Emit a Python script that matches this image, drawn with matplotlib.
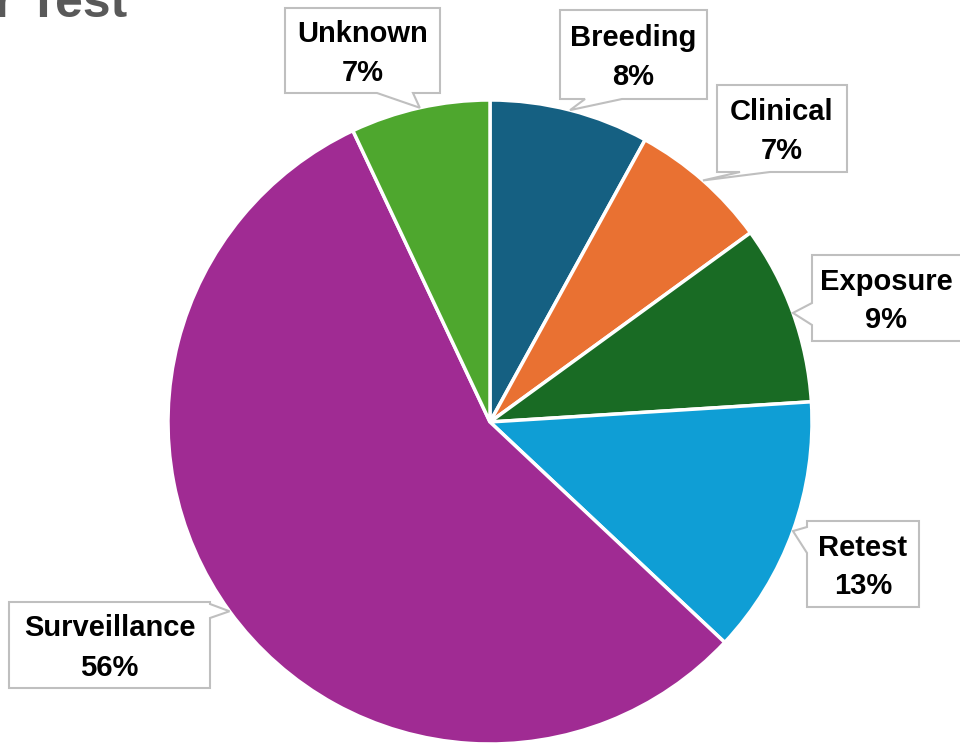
import matplotlib
matplotlib.use("Agg")
import matplotlib.pyplot as plt
import numpy as np
from matplotlib.patches import Polygon

# reasons and their share of all tests (%)
reasons = ["Breeding", "Clinical", "Exposure", "Retest", "Surveillance", "Unknown"]
shares = [8, 7, 9, 13, 56, 7]
colors = ["#156082", "#E97132", "#196B24", "#0F9ED5", "#A02B93", "#4EA72E"]

# callout boxes in pixels: left, top, right, bottom, side with the pointer, pointer base
callouts = {
    "Breeding": (560, 10, 707, 99, "bottom", (585, 622)),
    "Clinical": (717, 85, 847, 172, "bottom", (740, 770)),
    "Exposure": (812, 255, 968, 341, "left", (303, 325)),
    "Retest": (807, 521, 919, 607, "left", (527, 553)),
    "Surveillance": (9, 602, 210, 688, "right", (604, 618)),
    "Unknown": (285, 8, 440, 93, "bottom", (377, 413)),
}

W, H = 960, 743
cx, cy, R = 490, 422, 322

fig = plt.figure(figsize=(W / 100, H / 100), dpi=100)
ax = fig.add_axes([0, 0, 1, 1])

wedges, _ = ax.pie(shares, colors=colors, startangle=90, counterclock=False,
                   wedgeprops=dict(edgecolor="white", linewidth=2.5))

ax.set_aspect("auto")
ax.set_xlim(-cx / R, (W - cx) / R)
ax.set_ylim(-(H - cy) / R, cy / R)
ax.axis("off")


def to_data(x, y):
    return (x - cx) / R, (cy - y) / R


for name, share, w in zip(reasons, shares, wedges):
    x0, y0, x1, y1, side, (a, b) = callouts[name]
    mid = np.deg2rad((w.theta1 + w.theta2) / 2)
    tip = (1.0 * np.cos(mid), 1.0 * np.sin(mid))
    if side == "bottom":
        pts = [(x0, y0), (x1, y0), (x1, y1), (b, y1), None, (a, y1), (x0, y1)]
    elif side == "left":
        pts = [(x0, y0), (x1, y0), (x1, y1), (x0, y1), (x0, b), None, (x0, a)]
    else:
        pts = [(x0, y0), (x1, y0), (x1, a), None, (x1, b), (x1, y1), (x0, y1)]
    verts = [tip if p is None else to_data(*p) for p in pts]
    ax.add_patch(Polygon(verts, closed=True, facecolor="white",
                         edgecolor="#BFBFBF", linewidth=1.5, zorder=3))
    tx, ty = to_data((x0 + min(x1, W)) / 2, (y0 + y1) / 2 + 3)
    ax.text(tx, ty, f"{name}\n{share}%", ha="center", va="center",
            fontsize=21, fontweight="bold", family="Liberation Sans",
            linespacing=1.5, color="black", zorder=4)

# chart title, running off the top-left edge
fig.text(127 / W, 1 - 17 / H, "Reason for Test", ha="right", va="baseline",
         fontsize=36, fontweight="bold", family="Liberation Sans", color="#595959")

fig.savefig("out.png", dpi=100)
